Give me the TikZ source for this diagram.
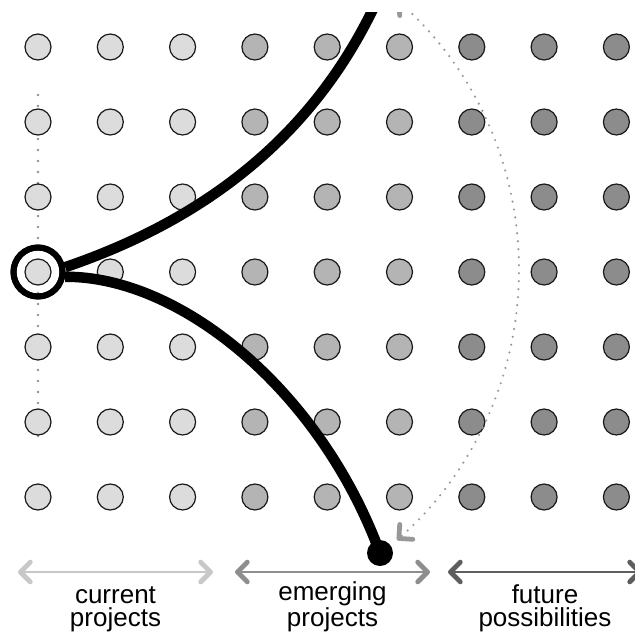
\documentclass[tikz,border=0pt]{standalone}
\usepackage{fontspec}
\setmainfont{Liberation Sans}
\usetikzlibrary{arrows.meta}

\definecolor{lightdot}{HTML}{DCDCDC}
\definecolor{middot}{HTML}{B4B4B4}
\definecolor{darkdot}{HTML}{8C8C8C}
\definecolor{curcol}{HTML}{C8C8C8}
\definecolor{emgcol}{HTML}{8E8E8E}
\definecolor{futcol}{HTML}{5E5E5E}
\definecolor{sweepcol}{HTML}{989898}
\definecolor{guidecol}{HTML}{909090}

\tikzset{
  barb/.tip={Straight Barb[angle=90:14pt, line width=4.8pt, round]},
  dot/.style={circle, draw=black!90, line width=1.2pt, minimum size=26pt, inner sep=0pt},
  ringmark/.style={circle, draw=black, line width=6pt, minimum size=49pt, inner sep=0pt},
  thickpath/.style={line width=10.5pt, black},
  guide/.style={guidecol, line width=2.6pt, line cap=round, dash pattern=on 0pt off 11pt},
  spanarrow/.style={line width=2pt, barb-barb},
  spanlabel/.style={anchor=base, align=center, font=\fontsize{26}{23}\selectfont, inner sep=0pt}
}

\begin{document}
\begin{tikzpicture}[x=1pt, y=-1pt]
\useasboundingbox (0,0) rectangle (635,635);
\clip (0,12) rectangle (635,635);

% vertical dotted guide through the first column
\coordinate (gtop) at (38,95);
\coordinate (gbot) at (38,447);
\draw[guide] (gtop) -- (gbot);

% grid of project dots
\foreach \i/\c in {0/lightdot,1/lightdot,2/lightdot,3/middot,4/middot,5/middot,6/darkdot,7/darkdot,8/darkdot}
  \foreach \j in {0,...,6}
    \node[dot, fill=\c] (c-\i-\j) at ({38+72.3*\i},{47+75*\j}) {};

% end point of the lower path
\node[circle, fill=black, minimum size=26pt, inner sep=0pt] (enddot) at (380,553) {};
\coordinate (topexit) at (390,-30);

% current position marker
\node[ringmark] (ring) at (c-0-3) {};

% the two thick paths
\draw[thickpath] (ring.10) .. controls (180,228) and (320,150) .. (topexit);
\draw[thickpath] (ring.-10) .. controls (180,276) and (320,390) .. (enddot.center);
\node[ringmark] at (ring) {};

% dotted sweep on the right
\coordinate (sweepc) at (159,270);
\draw[sweepcol, line width=2.4pt, line cap=round, dash pattern=on 0pt off 8pt, barb-barb]
  (sweepc) ++(-48.6:360) arc[start angle=-48.6, end angle=48.6, radius=360];

% horizon spans
\coordinate (cur-l) at (18,572);  \coordinate (cur-r) at (213,572);
\coordinate (emg-l) at (235,572); \coordinate (emg-r) at (430,572);
\coordinate (fut-l) at (448,572); \coordinate (fut-r) at (642,572);
\draw[spanarrow, curcol] (cur-l) -- (cur-r);
\draw[spanarrow, emgcol] (emg-l) -- (emg-r);
\draw[spanarrow, futcol] (fut-l) -- (fut-r);

% labels (base = baseline of the last line)
\node[spanlabel] (lab-cur) at (115.5,626) {current\\projects};
\node[spanlabel] (lab-emg) at (332.5,626) {emerging\\projects};
\node[spanlabel] (lab-fut) at (545,626) {future\\possibilities};
\end{tikzpicture}
\end{document}
